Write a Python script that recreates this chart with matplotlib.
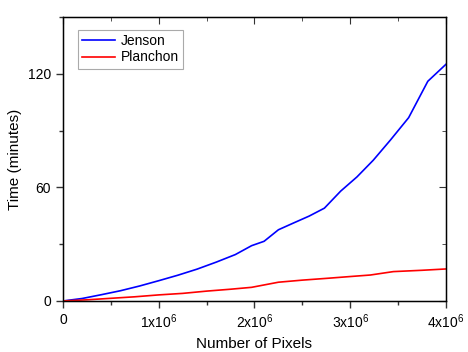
import matplotlib
matplotlib.use("Agg")
import matplotlib.pyplot as plt
from matplotlib.ticker import MultipleLocator, FuncFormatter

plt.rcParams['font.family'] = ['Liberation Sans', 'DejaVu Sans']
plt.rcParams['mathtext.fontset'] = 'custom'
plt.rcParams['mathtext.rm'] = 'Liberation Sans'
plt.rcParams['mathtext.it'] = 'Liberation Sans'

# pixels (in millions) and run time in minutes
jenson_px = [0, 0.2, 0.4, 0.6, 0.8, 1.0, 1.2, 1.4, 1.6, 1.8, 1.97, 2.1, 2.25,
             2.4, 2.57, 2.73, 2.9, 3.07, 3.24, 3.42, 3.61, 3.81, 4.0]
jenson_min = [0, 1.3, 3.3, 5.4, 7.9, 10.7, 13.6, 16.8, 20.5, 24.5, 29.2, 31.5, 37.6,
              41.0, 44.8, 49.0, 58.0, 65.5, 74.3, 85.0, 96.8, 116.0, 125.0]

planchon_px = [0, 0.25, 0.5, 0.75, 1.0, 1.25, 1.5, 1.75, 1.97, 2.25, 2.5, 2.77,
               3.0, 3.21, 3.45, 3.75, 4.0]
planchon_min = [0, 0.6, 1.4, 2.2, 3.2, 4.0, 5.2, 6.2, 7.2, 9.9, 11.0, 12.0,
                12.9, 13.7, 15.5, 16.2, 16.9]

fig = plt.figure(figsize=(4.68, 3.52), dpi=100)
ax = fig.add_axes([0.1346, 0.145, 0.8184, 0.807])

ax.plot([x * 1e6 for x in jenson_px], jenson_min, color='#0000ff', lw=1.2, label='Jenson')
ax.plot([x * 1e6 for x in planchon_px], planchon_min, color='#ff0000', lw=1.2, label='Planchon')

ax.set_xlim(0, 4e6)
ax.set_ylim(0, 150)
ax.xaxis.set_major_locator(MultipleLocator(1e6))
ax.xaxis.set_minor_locator(MultipleLocator(0.5e6))
ax.yaxis.set_major_locator(MultipleLocator(60))
ax.yaxis.set_minor_locator(MultipleLocator(30))


def xfmt(v, pos):
    n = int(round(v / 1e6))
    if n == 0:
        return '0'
    return r'%dx10$^{6}$' % n


ax.xaxis.set_major_formatter(FuncFormatter(xfmt))
ax.tick_params(which='both', direction='out', labelsize=10, color='#333333')
ax.tick_params(which='major', length=5, width=1)
ax.tick_params(which='minor', length=3, width=1)
for s in ax.spines.values():
    s.set_color('#333333')
    s.set_linewidth(1)

# mirrored ticks on top/right point inwards
top = ax.twiny()
top.set_xlim(ax.get_xlim())
top.xaxis.set_major_locator(MultipleLocator(1e6))
top.xaxis.set_minor_locator(MultipleLocator(0.5e6))
top.tick_params(which='both', direction='in', labeltop=False, color='#333333')
top.tick_params(which='major', length=5)
top.tick_params(which='minor', length=3)
right = ax.twinx()
right.set_ylim(ax.get_ylim())
right.yaxis.set_major_locator(MultipleLocator(60))
right.yaxis.set_minor_locator(MultipleLocator(30))
right.tick_params(which='both', direction='in', labelright=False, color='#333333')
right.tick_params(which='major', length=5)
right.tick_params(which='minor', length=3)

ax.set_xlabel('Number of Pixels', fontsize=11)
ax.set_ylabel('Time (minutes)', fontsize=11)

leg = ax.legend(loc='upper left', fontsize=10, fancybox=False, framealpha=1,
                edgecolor='#aaaaaa', handlelength=2.4, borderpad=0.3,
                labelspacing=0.2, handletextpad=0.4, bbox_to_anchor=(0.02, 0.98))
leg.get_frame().set_linewidth(0.8)

fig.savefig('out.png', dpi=100)
